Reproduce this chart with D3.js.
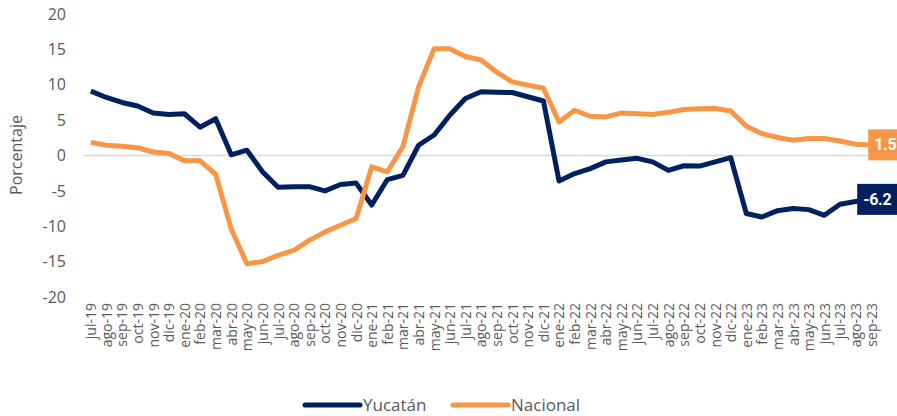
<!DOCTYPE html>
<html>
  <head>
    <meta charset="utf-8">
    <title>Yucatán vs Nacional</title>
    <script src="https://d3js.org/d3.v7.min.js"></script>
    <style>
      body { margin: 0; background: #fff; font-family: "Open Sans", sans-serif; }
      svg { display: block; }
    </style>
  </head>
  <body>
    <svg id="chart" width="897" height="416"></svg>
    <script>
      // categories
      months = ["jul-19","ago-19","sep-19","oct-19","nov-19","dic-19",
        "ene-20","feb-20","mar-20","abr-20","may-20","jun-20","jul-20","ago-20","sep-20","oct-20","nov-20","dic-20",
        "ene-21","feb-21","mar-21","abr-21","may-21","jun-21","jul-21","ago-21","sep-21","oct-21","nov-21","dic-21",
        "ene-22","feb-22","mar-22","abr-22","may-22","jun-22","jul-22","ago-22","sep-22","oct-22","nov-22","dic-22",
        "ene-23","feb-23","mar-23","abr-23","may-23","jun-23","jul-23","ago-23","sep-23"];
      // series
      yucatan = [9.1, 8.2, 7.5, 7.0, 6.0, 5.8, 5.9, 4.0, 5.2, 0.1, 0.75, -2.3, -4.5, -4.4, -4.4, -5.0, -4.1, -3.9,
        -7.0, -3.4, -2.8, 1.45, 2.9, 5.7, 8.05, 9.0, 8.95, 8.9, 8.3, 7.7,
        -3.6, -2.55, -1.85, -0.9, -0.65, -0.4, -0.9, -2.1, -1.45, -1.5, -0.9, -0.3,
        -8.2, -8.7, -7.8, -7.5, -7.65, -8.45, -6.9, -6.5, -6.2];
      nacional = [1.85, 1.45, 1.3, 1.1, 0.5, 0.3, -0.75, -0.75, -2.65, -10.4, -15.3, -15.0, -14.1, -13.4, -12.0, -10.8, -9.85, -8.9,
        -1.6, -2.3, 1.3, 9.7, 15.1, 15.1, 14.0, 13.5, 11.8, 10.4, 9.95, 9.5,
        4.75, 6.4, 5.55, 5.45, 6.0, 5.9, 5.8, 6.1, 6.5, 6.6, 6.65, 6.3,
        4.15, 3.1, 2.55, 2.15, 2.4, 2.4, 2.05, 1.6, 1.5];
      yTicks = [-20, -15, -10, -5, 0, 5, 10, 15, 20];

      svg = d3.select("#chart");
      x = d3.scalePoint()
        .domain(months)
        .range([83, 879])
        .padding(0.5);
      y = d3.scaleLinear()
        .domain([-20, 20])
        .range([297, 14]);

      // y axis
      yAxis = svg.append("g")
        .attr("transform", "translate(83,0)")
        .call(d3.axisLeft(y).tickValues(yTicks).tickSize(0).tickPadding(17).tickFormat(function(d) { return String(d); }));
      yAxis.select(".domain").remove();
      yAxis.selectAll("text")
        .style("font-family", "Open Sans")
        .style("font-size", "16px")
        .attr("fill", "#595959");

      svg.append("text")
        .attr("transform", "translate(22,155) rotate(-90)")
        .attr("text-anchor", "middle")
        .style("font-size", "16px")
        .attr("fill", "#595959")
        .text("Porcentaje");

      // zero line
      svg.append("line")
        .attr("x1", 83).attr("x2", 879)
        .attr("y1", y(0)).attr("y2", y(0))
        .attr("stroke", "#d9d9d9")
        .attr("stroke-width", 1.5);

      // x axis
      xAxis = svg.append("g")
        .attr("transform", "translate(0,297)")
        .call(d3.axisBottom(x).tickSize(0));
      xAxis.select(".domain").remove();
      xAxis.selectAll("text")
        .attr("transform", "rotate(-90)")
        .attr("x", -6)
        .attr("y", 0)
        .attr("dy", "0.35em")
        .style("text-anchor", "end")
        .style("font-family", "Open Sans")
        .style("font-size", "14px")
        .attr("fill", "#595959");

      line = d3.line()
        .x(function(d, i) { return x(months[i]); })
        .y(function(d) { return y(d); });

      series = [
        { name: "Yucatán", values: yucatan, color: "#002060" },
        { name: "Nacional", values: nacional, color: "#F79646" }
      ];

      svg.selectAll(".series")
        .data(series)
        .enter().append("path")
          .classed("series", true)
          .attr("d", function(d) { return line(d.values); })
          .attr("fill", "none")
          .attr("stroke", function(d) { return d.color; })
          .attr("stroke-width", 5)
          .attr("stroke-linejoin", "round");

      // end labels
      lastX = x(months[months.length - 1]);
      labelOffsets = { "Yucatán": -14, "Nacional": -3 };
      series.forEach(function(s) {
        v = s.values[s.values.length - 1];
        left = lastX + labelOffsets[s.name];
        svg.append("rect")
          .attr("x", left)
          .attr("y", y(v) - 15.5)
          .attr("width", 60)
          .attr("height", 31)
          .attr("fill", s.color);
        svg.append("text")
          .attr("x", left + 6)
          .attr("y", y(v))
          .attr("dy", "0.35em")
          .style("font-family", "Roboto")
          .style("font-weight", "bold")
          .style("font-size", "16px")
          .style("letter-spacing", "-0.3px")
          .attr("fill", "#fff")
          .text(v.toFixed(1));
      });

      // legend
      legend = svg.selectAll(".legend")
        .data(series)
        .enter().append("g")
          .classed("legend", true)
          .attr("transform", function(d, i) { return "translate(" + (305 + i * 148) + ",405)"; });
      legend.append("line")
        .attr("x1", 0).attr("x2", 55)
        .attr("stroke", function(d) { return d.color; })
        .attr("stroke-width", 5)
        .attr("stroke-linecap", "round");
      legend.append("text")
        .attr("x", 58)
        .attr("dy", "0.35em")
        .style("font-size", "17px")
        .attr("fill", "#595959")
        .text(function(d) { return d.name; });
    </script>
  </body>
</html>
